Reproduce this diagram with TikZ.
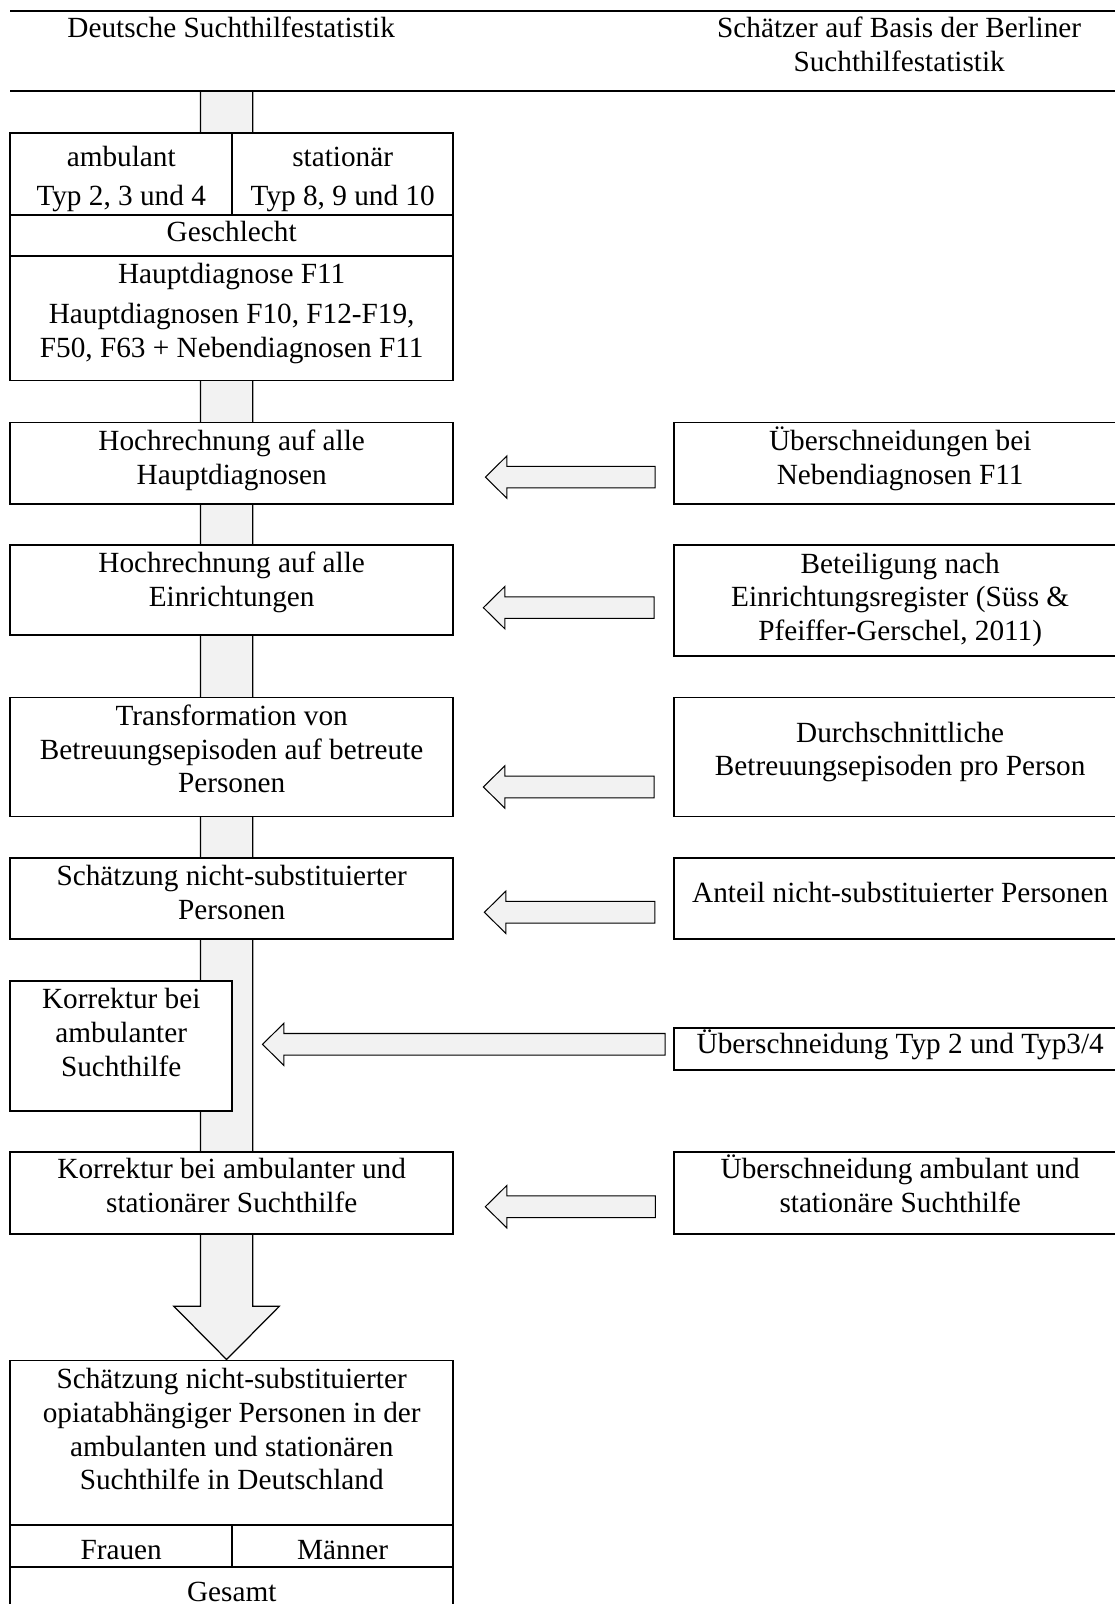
\documentclass[tikz,border=0pt]{standalone}
\usepackage{fontspec}
\setmainfont{Liberation Serif}
\usetikzlibrary{fit}
\definecolor{lightfill}{RGB}{242,242,242}
\newcommand\tstrut{\rule{0pt}{13pt}}
\newcommand\leftblk[3]{\draw[blk] (#1,#2) -- (#1+21,#2-20.7) -- (#1+21,#2-10.6) -- (#3,#2-10.6) -- (#3,#2+10.6) -- (#1+21,#2+10.6) -- (#1+21,#2+20.7) -- cycle;}
\begin{document}
\begin{tikzpicture}[x=0.5pt,y=-0.5pt,
  box/.style={draw, line width=0.8pt, fill=white, inner sep=0pt, rectangle},
  txt/.style={inner sep=0pt, align=center, anchor=north, font=\fontsize{14.3pt}{16.5pt}\selectfont},
  blk/.style={draw, line width=0.5pt, fill=lightfill, line join=miter},
  rulestyle/.style={line width=1pt}]
\useasboundingbox (0,0) rectangle (1089,1568);

% spine with final down arrow
\draw[blk, line width=0.6pt] (196,89) -- (196,1277) -- (170,1277) -- (221.5,1329) -- (273,1277) -- (247,1277) -- (247,89) -- cycle;

% header rules
\coordinate (r1a) at (10,10.75); \coordinate (r1b) at (1100,10.75);
\coordinate (r2a) at (10,88.6); \coordinate (r2b) at (1100,88.6);
\draw[rulestyle] (r1a) -- (r1b);
\draw[rulestyle] (r2a) -- (r2b);
\node[txt] (hl) at (226,9.8) {\tstrut Deutsche Suchthilfestatistik};
\node[txt] (hr) at (879,10.5) {\tstrut Schätzer auf Basis der Berliner\\Suchthilfestatistik};

% top box
\node[box, fit={(10,130) (227,210)}] (ca) {};
\node[box, fit={(227,130) (443,210)}] (cs) {};
\node[box, fit={(10,210) (443,250)}] (cg) {};
\node[box, fit={(10,250) (443,372)}] (cd) {};
\node[txt] (ta) at (118.5,136) {\tstrut ambulant\\[2.7pt]Typ 2, 3 und 4};
\node[txt] (ts) at (335,136) {\tstrut stationär\\[2.7pt]Typ 8, 9 und 10};
\node[txt] (tg) at (226.5,210) {\tstrut Geschlecht};
\node[txt] (td) at (226.5,251) {\tstrut Hauptdiagnose F11\\[3pt]Hauptdiagnosen F10, F12-F19,\\F50, F63 + Nebendiagnosen F11};

% left column
\node[box, fit={(10,413) (443,492.5)}] (b2) {};
\node[txt] (t2) at (226.5,414) {\tstrut Hochrechnung auf alle\\Hauptdiagnosen};
\node[box, fit={(10,533) (443,620.5)}] (b3) {};
\node[txt] (t3) at (226.5,533.5) {\tstrut Hochrechnung auf alle\\Einrichtungen};
\node[box, fit={(10,682) (443,798)}] (b4) {};
\node[txt] (t4) at (226.5,682.7) {\tstrut Transformation von\\Betreuungsepisoden auf betreute\\Personen};
\node[box, fit={(10,839) (443,918)}] (b5) {};
\node[txt] (t5) at (226.5,839) {\tstrut Schätzung nicht-substituierter\\Personen};
\node[box, fit={(10,959) (227,1086)}] (b6) {};
\node[txt] (t6) at (118.5,959.7) {\tstrut Korrektur bei\\ambulanter\\Suchthilfe};
\node[box, fit={(10,1126) (443,1206)}] (b7) {};
\node[txt] (t7) at (226.5,1126) {\tstrut Korrektur bei ambulanter und\\stationärer Suchthilfe};

% final box
\node[box, fit={(10,1330) (443,1491)}] (b8) {};
\node[txt] (t8) at (226.5,1331) {\tstrut Schätzung nicht-substituierter\\opiatabhängiger Personen in der\\ambulanten und stationären\\Suchthilfe in Deutschland};
\node[box, fit={(10,1491) (227,1532)}] (cf) {};
\node[box, fit={(227,1491) (443,1532)}] (cm) {};
\node[box, fit={(10,1532) (443,1600)}] (cgs) {};
\node[txt] (tf) at (118.5,1498) {\tstrut Frauen};
\node[txt] (tm) at (335,1498) {\tstrut Männer};
\node[txt] (tgs) at (226.5,1539) {\tstrut Gesamt};

% right column
\node[box, fit={(659,413) (1101,492.5)}] (rb2) {};
\node[txt] (rt2) at (880,414) {\tstrut Überschneidungen bei\\Nebendiagnosen F11};
\node[box, fit={(659,533) (1101,641)}] (rb3) {};
\node[txt] (rt3) at (880,533.8) {\tstrut Beteiligung nach\\Einrichtungsregister (Süss \&\\Pfeiffer-Gerschel, 2011)};
\node[box, fit={(659,682) (1101,798)}] (rb4) {};
\node[txt] (rt4) at (880,699) {\tstrut Durchschnittliche\\Betreuungsepisoden pro Person};
\node[box, fit={(659,839) (1101,918)}] (rb5) {};
\node[txt] (rt5) at (880,855.4) {\tstrut Anteil nicht-substituierter Personen};
\node[box, fit={(659,1005) (1101,1046)}] (rb6) {};
\node[txt] (rt6) at (880,1003.6) {\tstrut Überschneidung Typ 2 und Typ3/4};
\node[box, fit={(659,1126) (1101,1206)}] (rb7) {};
\node[txt] (rt7) at (880,1126) {\tstrut Überschneidung ambulant und\\stationäre Suchthilfe};

% block arrows (right to left)
\leftblk{474.5}{466.4}{640.5}
\leftblk{472.5}{594}{639.5}
\leftblk{472.5}{769.3}{639.5}
\leftblk{473.5}{891.8}{640.2}
\leftblk{256.6}{1020.9}{650.2}
\leftblk{474.4}{1179.6}{640.6}
\end{tikzpicture}
\end{document}
